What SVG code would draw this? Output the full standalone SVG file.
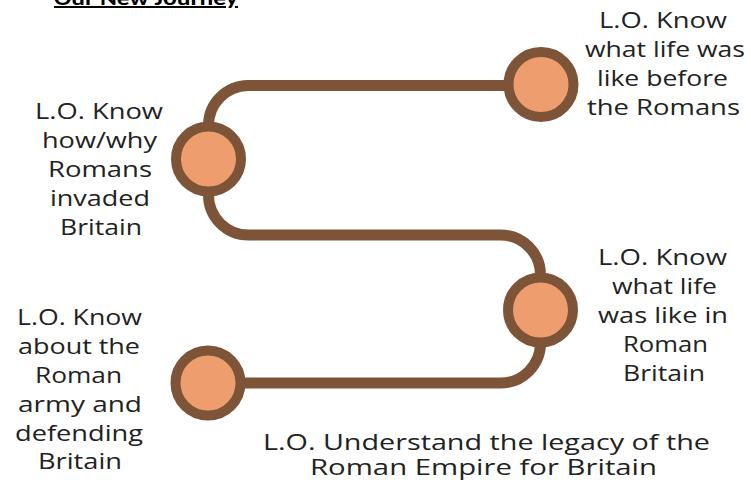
<svg xmlns="http://www.w3.org/2000/svg" width="751" height="484" viewBox="0 0 751 484">
<style>
.lbl{font-family:"Open Sans","Liberation Sans",sans-serif;font-size:22.5px;fill:#222;text-anchor:middle}
.node{fill:#EE9D6F;stroke:#7E5439;stroke-width:10}
.track{fill:none;stroke:#7E5439;stroke-width:11}
</style>
<rect width="751" height="484" fill="#fff"/>
<text x="146" y="5" font-family="Calibri,'Liberation Sans',sans-serif" font-weight="bold" font-size="20" text-anchor="middle" text-decoration="underline" fill="#000" textLength="184" lengthAdjust="spacingAndGlyphs">Our New Journey</text>
<g id="connectors">
<path class="track" d="M541 85.5 H248 A40 40 0 0 0 208.5 125.5 V195 A40 40 0 0 0 248.5 235 H500 A40 40 0 0 1 540.5 275 V343 A40 40 0 0 1 500.5 383 H208"/>
</g>
<g id="node1">
<circle class="node" cx="541" cy="84.5" r="32.5"/>
<text class="lbl" x="663" y="28" textLength="128" lengthAdjust="spacingAndGlyphs">L.O. Know</text>
<text class="lbl" x="665" y="57" textLength="160" lengthAdjust="spacingAndGlyphs">what life was</text>
<text class="lbl" x="662.5" y="86" textLength="131" lengthAdjust="spacingAndGlyphs">like before</text>
<text class="lbl" x="663.5" y="115" textLength="153" lengthAdjust="spacingAndGlyphs">the Romans</text>
</g>
<g id="node2">
<circle class="node" cx="208.5" cy="159" r="32.5"/>
<text class="lbl" x="99" y="119" textLength="128" lengthAdjust="spacingAndGlyphs">L.O. Know</text>
<text class="lbl" x="99.5" y="148" textLength="115" lengthAdjust="spacingAndGlyphs">how/why</text>
<text class="lbl" x="100" y="177" textLength="104" lengthAdjust="spacingAndGlyphs">Romans</text>
<text class="lbl" x="100" y="206" textLength="100" lengthAdjust="spacingAndGlyphs">invaded</text>
<text class="lbl" x="101" y="235" textLength="82" lengthAdjust="spacingAndGlyphs">Britain</text>
</g>
<g id="node3">
<circle class="node" cx="540.5" cy="310" r="32.5"/>
<text class="lbl" x="662.5" y="265" textLength="129" lengthAdjust="spacingAndGlyphs">L.O. Know</text>
<text class="lbl" x="664.5" y="294" textLength="105" lengthAdjust="spacingAndGlyphs">what life</text>
<text class="lbl" x="663" y="323" textLength="130" lengthAdjust="spacingAndGlyphs">was like in</text>
<text class="lbl" x="665.5" y="352" textLength="85" lengthAdjust="spacingAndGlyphs">Roman</text>
<text class="lbl" x="664" y="381" textLength="82" lengthAdjust="spacingAndGlyphs">Britain</text>
</g>
<g id="node4">
<circle class="node" cx="208" cy="383" r="32.5"/>
<text class="lbl" x="79.5" y="325" textLength="125" lengthAdjust="spacingAndGlyphs">L.O. Know</text>
<text class="lbl" x="79" y="354" textLength="122" lengthAdjust="spacingAndGlyphs">about the</text>
<text class="lbl" x="78.5" y="383" textLength="87" lengthAdjust="spacingAndGlyphs">Roman</text>
<text class="lbl" x="80" y="412" textLength="124" lengthAdjust="spacingAndGlyphs">army and</text>
<text class="lbl" x="79" y="441" textLength="128" lengthAdjust="spacingAndGlyphs">defending</text>
<text class="lbl" x="80" y="469" textLength="84" lengthAdjust="spacingAndGlyphs">Britain</text>
</g>
<g id="legacy">
<text class="lbl" x="486.5" y="450" textLength="447" lengthAdjust="spacingAndGlyphs">L.O. Understand the legacy of the</text>
<text class="lbl" x="483.5" y="475" textLength="347" lengthAdjust="spacingAndGlyphs">Roman Empire for Britain</text>
</g>
</svg>
